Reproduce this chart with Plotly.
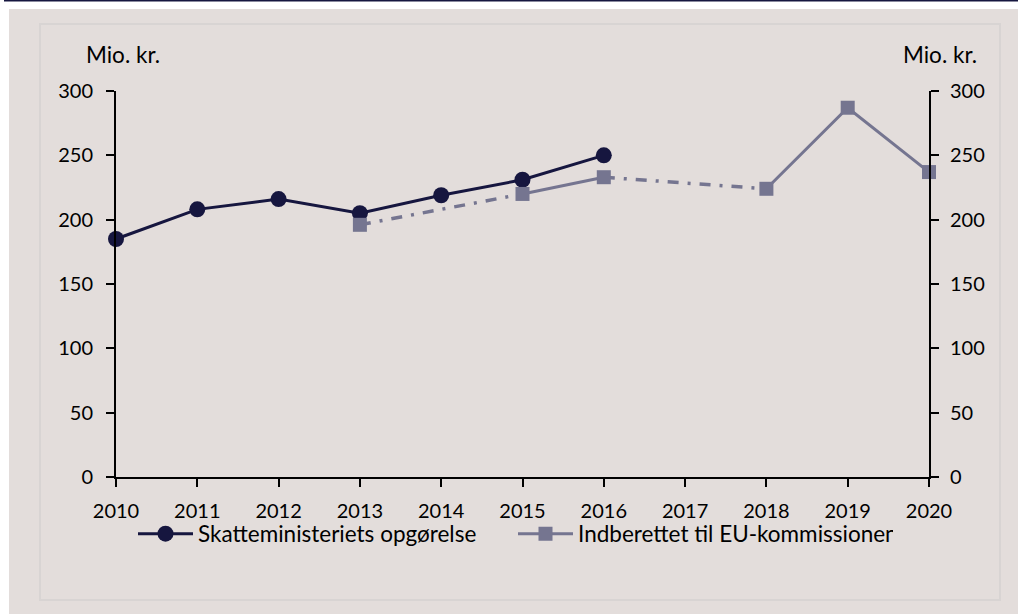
import plotly.graph_objects as go

years = ["2010", "2011", "2012", "2013", "2014", "2015", "2016", "2017", "2018", "2019", "2020"]
skat_values = [185, 208, 216, 205, 219, 231, 250, None, None, None, None]
eu_values = [None, None, None, 196, None, 220, 233, None, 224, 287, 237]
y_ticks = [0, 50, 100, 150, 200, 250, 300]

name_skat = "Skatteministeriets opgørelse"
name_eu = "Indberettet til EU-kommissionen"
unit_label = "Mio. kr."

C_SKAT = "#16163F"
C_EU = "#757590"
BG = "#E3DDDB"
FONT = "Lato"
TICK_SIZE = 20
TEXT_SIZE = 22.5

# bridge segments across gaps in the EU series (dash-dot)
bx, by = [], []
known = [i for i, v in enumerate(eu_values) if v is not None]
for a, b in zip(known[:-1], known[1:]):
    if b - a > 1:
        bx += [years[a], years[b], None]
        by += [eu_values[a], eu_values[b], None]

fig = go.Figure()
fig.add_trace(go.Scatter(
    x=bx, y=by, mode="lines", yaxis="y2", showlegend=False, hoverinfo="skip",
    line=dict(color=C_EU, width=3.5, dash="11px,9px,3px,9px"), connectgaps=False,
    cliponaxis=False))
fig.add_trace(go.Scatter(
    x=years, y=eu_values, mode="lines+markers", name=name_eu, yaxis="y2",
    line=dict(color=C_EU, width=3), connectgaps=False, cliponaxis=False,
    marker=dict(symbol="square", size=14, color=C_EU)))
fig.add_trace(go.Scatter(
    x=years, y=skat_values, mode="lines+markers", name=name_skat,
    line=dict(color=C_SKAT, width=3), connectgaps=False, cliponaxis=False,
    marker=dict(symbol="circle", size=16, color=C_SKAT)))

L, R, T, B = 116, 929, 91, 477
W, H = 1018, 614
pw, ph = R - L, B - T

def px(x):
    return (x - L) / pw

def py(y):
    return (B - y) / ph

shapes = [
    dict(type="rect", xref="paper", yref="paper", x0=px(0), x1=px(9), y0=py(614), y1=py(0),
         fillcolor="white", line=dict(width=0), layer="below"),
    dict(type="rect", xref="paper", yref="paper", x0=px(0), x1=px(1018), y0=py(9), y1=py(0),
         fillcolor="white", line=dict(width=0), layer="below"),
    dict(type="rect", xref="paper", yref="paper", x0=px(4), x1=px(1018), y0=py(1.6), y1=py(0),
         fillcolor=C_SKAT, line=dict(width=0), layer="below"),
    dict(type="rect", xref="paper", yref="paper", x0=px(40), x1=px(1000), y0=py(600), y1=py(24),
         fillcolor="rgba(0,0,0,0)", line=dict(color="#D8D4D3", width=2), layer="below"),
]

axis_common = dict(range=[0, 300], tickvals=y_ticks, showgrid=False, zeroline=False,
                   showline=True, linecolor="black", linewidth=2, ticks="outside",
                   ticklen=8, tickwidth=2, tickcolor="black",
                   tickfont=dict(family=FONT, size=TICK_SIZE, color="black"), fixedrange=True)

fig.update_layout(
    width=W, height=H,
    margin=dict(l=L, r=W - R, t=T, b=H - B),
    paper_bgcolor=BG, plot_bgcolor=BG,
    font=dict(family=FONT, size=TEXT_SIZE, color="black"),
    xaxis=dict(type="category", categoryorder="array", categoryarray=years,
               range=[0, len(years) - 1], showgrid=False, zeroline=False,
               showline=True, linecolor="black", linewidth=2, ticks="outside",
               ticklen=8, tickwidth=2, tickcolor="black", ticklabelstandoff=7,
               tickfont=dict(family=FONT, size=TICK_SIZE, color="black"), fixedrange=True),
    yaxis=dict(**axis_common, side="left", ticklabelstandoff=9),
    yaxis2=dict(**axis_common, side="right", overlaying="y", anchor="x", ticklabelstandoff=7),
    shapes=shapes,
    legend=dict(orientation="h", x=px(133), xanchor="left", y=py(534), yanchor="middle",
                traceorder="reversed", font=dict(family=FONT, size=TEXT_SIZE, color="black"),
                bgcolor="rgba(0,0,0,0)", itemwidth=55, entrywidth=310),
    annotations=[
        dict(text=unit_label, xref="paper", yref="paper", x=px(84), y=py(55),
             xanchor="left", yanchor="middle", showarrow=False,
             font=dict(family=FONT, size=TEXT_SIZE, color="black")),
        dict(text=unit_label, xref="paper", yref="paper", x=px(979), y=py(55),
             xanchor="right", yanchor="middle", showarrow=False,
             font=dict(family=FONT, size=TEXT_SIZE, color="black")),
    ],
)

fig.write_html("out.html", config={"displayModeBar": False},
               post_script="document.body.style.margin='0';document.body.style.overflow='hidden';")
